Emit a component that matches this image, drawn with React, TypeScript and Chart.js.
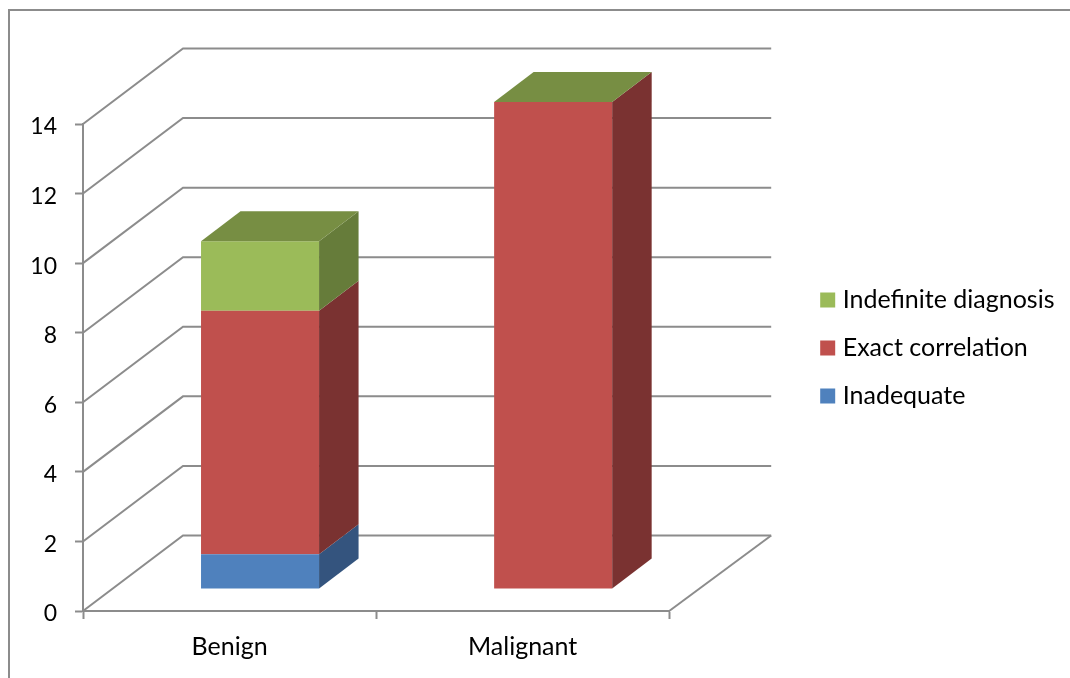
import React, { useEffect, useRef } from "react";
import { Chart, registerables } from "chart.js";

Chart.register(...registerables);

const categories = ["Benign", "Malignant"];
const inadequate = [1, 0];
const exactCorrelation = [7, 14];
const indefiniteDiagnosis = [2, 0];

const LINE = "#8c8c8c";
const FONT = "Lato";

// Projection of the back wall and of the bars' own depth
const WALL_DX = 100;
const WALL_DY = -75.5;
const BAR_SHIFT_X = 30.5;
const BAR_SHIFT_Y = -22;
const BAR_DX = 39.5;
const BAR_DY = -30;

const palette = [
  { front: "#4f81bd", side: "#34547e", top: "#3f6797" },
  { front: "#c0504d", side: "#7a3231", top: "#9a403e" },
  { front: "#9bbb59", side: "#667c3a", top: "#778e43" },
];

const depthPlugin = {
  id: "depth",
  afterLayout(chart: any) {
    // The legend sits slightly further left than its fitted box
    chart.legend.left -= 5.5;
    chart.legend.right -= 5.5;
  },
  beforeDraw(chart: any) {
    // Outer frame of the chart object, open on the right and at the bottom
    const { ctx, width, height } = chart;
    ctx.save();
    ctx.fillStyle = "#ffffff";
    ctx.fillRect(0, 0, width, height);
    ctx.strokeStyle = LINE;
    ctx.lineWidth = 2;
    ctx.beginPath();
    ctx.moveTo(9, height);
    ctx.lineTo(9, 10);
    ctx.lineTo(width, 10);
    ctx.stroke();
    ctx.restore();
  },
  beforeDatasetsDraw(chart: any) {
    const { ctx, chartArea, scales } = chart;
    const { left, right, bottom } = chartArea;
    ctx.save();
    ctx.strokeStyle = LINE;
    ctx.lineWidth = 2;
    // Floor edge on the right, then the side and back wall gridlines
    ctx.beginPath();
    ctx.moveTo(right, bottom);
    ctx.lineTo(right + WALL_DX + 2, bottom + WALL_DY);
    ctx.stroke();
    for (const tick of scales.y.ticks) {
      const y = scales.y.getPixelForValue(tick.value);
      ctx.beginPath();
      ctx.moveTo(left, y);
      ctx.lineTo(left + WALL_DX, y + WALL_DY);
      ctx.lineTo(right + WALL_DX + 2, y + WALL_DY);
      ctx.stroke();
    }
    ctx.restore();
    // Bars stand forward of the axis plane
    ctx.save();
    ctx.translate(BAR_SHIFT_X, BAR_SHIFT_Y);
  },
  afterDatasetsDraw(chart: any) {
    const { ctx } = chart;
    const count = chart.data.datasets.length;
    categories.forEach((_, c) => {
      for (let d = 0; d < count; d++) {
        const bar = chart.getDatasetMeta(d).data[c].getProps(["x", "y", "base", "width"]);
        const x1 = bar.x - bar.width / 2;
        const x2 = bar.x + bar.width / 2;
        if (bar.base !== bar.y) {
          ctx.fillStyle = palette[d].side;
          ctx.beginPath();
          ctx.moveTo(x2, bar.y);
          ctx.lineTo(x2 + BAR_DX, bar.y + BAR_DY);
          ctx.lineTo(x2 + BAR_DX, bar.base + BAR_DY);
          ctx.lineTo(x2, bar.base);
          ctx.closePath();
          ctx.fill();
        }
        // The last series of a stack caps it, even when its value is zero
        if (d === count - 1) {
          ctx.fillStyle = palette[d].top;
          ctx.beginPath();
          ctx.moveTo(x1, bar.y);
          ctx.lineTo(x1 + BAR_DX, bar.y + BAR_DY);
          ctx.lineTo(x2 + BAR_DX, bar.y + BAR_DY);
          ctx.lineTo(x2, bar.y);
          ctx.closePath();
          ctx.fill();
        }
      }
    });
    ctx.restore();
  },
};

export default function App() {
  const canvasRef = useRef<HTMLCanvasElement>(null);

  useEffect(() => {
    const chart = new Chart(canvasRef.current as HTMLCanvasElement, {
      type: "bar",
      data: {
        labels: categories,
        datasets: [
          { label: "Inadequate", data: inadequate, backgroundColor: palette[0].front },
          { label: "Exact correlation", data: exactCorrelation, backgroundColor: palette[1].front },
          { label: "Indefinite diagnosis", data: indefiniteDiagnosis, backgroundColor: palette[2].front },
        ],
      },
      options: {
        responsive: false,
        animation: false,
        events: [],
        layout: { padding: { top: 18, left: 0, right: 0, bottom: 0 } },
        datasets: { bar: { barPercentage: 1, categoryPercentage: 118 / 293 } },
        scales: {
          x: {
            stacked: true,
            offset: true,
            border: { color: LINE, width: 2 },
            grid: { drawOnChartArea: false, drawTicks: true, tickLength: 8, tickWidth: 2, tickColor: LINE },
            ticks: { color: "#000000", font: { family: FONT, size: 25 }, padding: 13, maxRotation: 0 },
            afterFit: (s: any) => { s.height = 67; },
          },
          y: {
            stacked: true,
            min: 0,
            max: 14,
            border: { color: LINE, width: 2 },
            grid: { drawOnChartArea: false, drawTicks: true, tickLength: 8, tickWidth: 2, tickColor: LINE },
            ticks: { stepSize: 2, color: "#000000", font: { family: FONT, size: 23 }, padding: 18, labelOffset: 3 },
            afterFit: (s: any) => { s.width = 83; },
          },
          // Empty axes that only hold space around the plot
          topGutter: {
            type: "linear",
            position: "top",
            grid: { display: false },
            border: { display: false },
            ticks: { display: false },
            afterFit: (s: any) => { s.height = 106; },
          },
          rightGutter: {
            type: "linear",
            position: "right",
            grid: { display: false },
            border: { display: false },
            ticks: { display: false },
            afterFit: (s: any) => { s.width = 138.5; },
          },
        },
        plugins: {
          title: { display: false },
          tooltip: { enabled: false },
          legend: {
            position: "right",
            align: "center",
            maxWidth: 300,
            reverse: true,
            labels: {
              boxWidth: 5,
              boxHeight: 5,
              padding: 23,
              color: "#000000",
              font: { family: FONT, size: 25 },
              generateLabels: (c: any) =>
                (Chart.defaults.plugins.legend.labels as any).generateLabels(c).map((item: any) => ({
                  ...item,
                  strokeStyle: item.fillStyle,
                  lineWidth: 10,
                })),
            },
          },
        },
      } as any,
      plugins: [depthPlugin],
    });
    return () => chart.destroy();
  }, []);

  return (
    <div style={{ position: "absolute", left: 0, top: 0 }}>
      <canvas ref={canvasRef} width={1070} height={678} style={{ display: "block" }} />
    </div>
  );
}
